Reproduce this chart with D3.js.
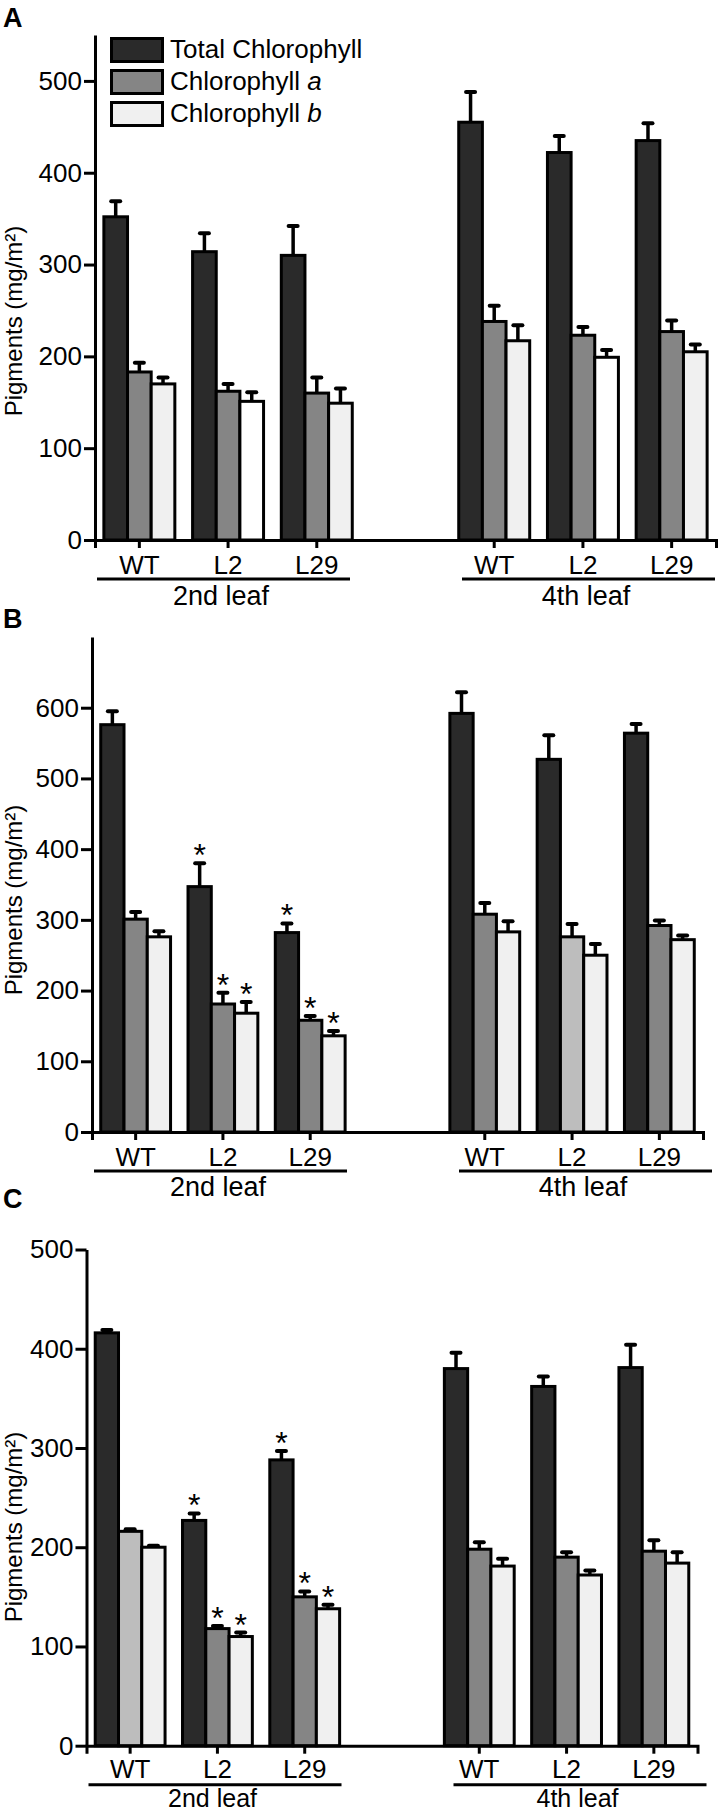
<!DOCTYPE html>
<html><head><meta charset="utf-8">
<script src="https://cdn.jsdelivr.net/npm/d3@7"></script>
<style>
html,body{margin:0;padding:0;background:#fff;}
svg{display:block;font-family:"Liberation Sans", Arial, Helvetica, sans-serif;}
</style></head><body>
<svg id="chart" width="721" height="1812"></svg>
<script>
// ---------- data ----------
const genotypes = ["WT", "L2", "L29"];
const leaves = ["2nd leaf", "4th leaf"];
const seriesNames = ["Total Chlorophyll", "Chlorophyll a", "Chlorophyll b"];
const slots = ["2nd-WT", "2nd-L2", "2nd-L29", "gap", "4th-WT", "4th-L2", "4th-L29"];

// order of values: 2nd WT, 2nd L2, 2nd L29, 4th WT, 4th L2, 4th L29
const A_total    = [352, 314, 310, 455, 422, 435];
const A_totalErr = [17, 20, 32, 33, 18, 19];
const A_chlA     = [183, 162, 160, 238, 223, 227];
const A_chlAErr  = [10, 8, 17, 17, 9, 12];
const A_chlB     = [170, 151, 149, 217, 199, 205];
const A_chlBErr  = [7, 10, 16, 17, 8, 8];
const A_ticks    = [0, 100, 200, 300, 400, 500];
const A_sig      = [];

const B_total    = [576, 347, 282, 592, 527, 564];
const B_totalErr = [19, 33, 13, 30, 34, 13];
const B_chlA     = [301, 181, 158, 308, 276, 292];
const B_chlAErr  = [10, 16, 6, 16, 18, 7];
const B_chlB     = [276, 168, 136, 283, 250, 272];
const B_chlBErr  = [8, 16, 7, 15, 16, 6];
const B_ticks    = [0, 100, 200, 300, 400, 500, 600];
const B_sig      = [[0, 1], [1, 1], [2, 1], [0, 2], [1, 2], [2, 2]]; // [series, group]

const C_total    = [416, 227, 288, 380, 362, 381];
const C_totalErr = [3, 7, 9, 16, 10, 23];
const C_chlA     = [216, 118, 150, 198, 190, 196];
const C_chlAErr  = [2, 2.5, 5.5, 7, 5, 11];
const C_chlB     = [200, 110, 138, 181, 172, 184];
const C_chlBErr  = [1.5, 4, 4, 7.5, 4.5, 11];
const C_ticks    = [0, 100, 200, 300, 400, 500];
const C_sig      = [[0, 1], [1, 1], [2, 1], [0, 2], [1, 2], [2, 2]];

// ---------- styles ----------
const seriesFill = ["#2a2a2a", "#858585", "#f0f0f0"];
const fillOverrides = {
  "A-2-1": "#ffffff", "A-2-4": "#ffffff",
  "B-1-4": "#bdbdbd",
  "C-1-0": "#bdbdbd"
};

const panels = [
  { id: "A", values: [A_total, A_chlA, A_chlB], errors: [A_totalErr, A_chlAErr, A_chlBErr],
    ticks: A_ticks, sig: A_sig, yMax: 550,
    x0: 95, x1: 716, y0: 540, yTop: 35, labelY: 321, letterY: 27, legend: true,
    catPad: 8, groupDy: 65, groupFont: 27 },
  { id: "B", values: [B_total, B_chlA, B_chlB], errors: [B_totalErr, B_chlAErr, B_chlBErr],
    ticks: B_ticks, sig: B_sig, yMax: 700,
    x0: 92, x1: 703, y0: 1132, yTop: 637, labelY: 900, letterY: 628, legend: false,
    catPad: 8, groupDy: 64, groupFont: 27 },
  { id: "C", values: [C_total, C_chlA, C_chlB], errors: [C_totalErr, C_chlAErr, C_chlBErr],
    ticks: C_ticks, sig: C_sig, yMax: 500,
    x0: 86.5, x1: 697.5, y0: 1745.7, yTop: 1249.5, labelY: 1527, letterY: 1208, legend: false,
    catPad: 6, groupDy: 61, groupFont: 25 }
];

const svg = d3.select("#chart");
const groupSlot = i => slots[i < 3 ? i : i + 1];
const slotLabel = s => s.split("-")[1];

function drawPanel(p) {
  const g = svg.append("g");
  const x = d3.scaleBand().domain(slots).range([p.x0, p.x1]).padding(0);
  const y = d3.scaleLinear().domain([0, p.yMax]).range([p.y0, p.yTop]);
  const inner = d3.scaleBand().domain(d3.range(3)).range([0, x.bandwidth() * 0.8]).padding(0);
  const off = x.bandwidth() * 0.1;

  const rows = [];
  p.values.forEach((vals, s) => vals.forEach((v, i) => {
    rows.push({ s, i, v, e: p.errors[s][i],
      fill: fillOverrides[`${p.id}-${s}-${i}`] || seriesFill[s],
      cx: x(groupSlot(i)) + off + inner(s) + inner.bandwidth() / 2 });
  }));

  // bars
  g.selectAll("rect.bar").data(rows).join("rect")
    .attr("class", "bar")
    .attr("x", d => d.cx - inner.bandwidth() / 2)
    .attr("width", inner.bandwidth())
    .attr("y", d => y(d.v))
    .attr("height", d => y(0) - y(d.v))
    .attr("fill", d => d.fill)
    .attr("stroke", "#000")
    .attr("stroke-width", 3);

  // error bars
  g.selectAll("line.err").data(rows).join("line")
    .attr("class", "err")
    .attr("x1", d => d.cx).attr("x2", d => d.cx)
    .attr("y1", d => y(d.v)).attr("y2", d => y(d.v + d.e))
    .attr("stroke", "#000").attr("stroke-width", 3.5);
  g.selectAll("line.cap").data(rows).join("line")
    .attr("class", "cap")
    .attr("x1", d => d.cx - 4.5).attr("x2", d => d.cx + 4.5)
    .attr("y1", d => y(d.v + d.e)).attr("y2", d => y(d.v + d.e))
    .attr("stroke", "#000").attr("stroke-width", 4).attr("stroke-linecap", "round");

  // significance stars
  const sigRows = p.sig.map(([s, i]) => rows.find(r => r.s === s && r.i === i));
  g.selectAll("text.star").data(sigRows).join("text")
    .attr("class", "star")
    .attr("x", d => d.cx)
    .attr("y", d => y(d.v + d.e) + 3)
    .attr("text-anchor", "middle")
    .attr("font-size", 32)
    .text("*");

  // y axis
  const ya = g.append("g").attr("transform", `translate(${p.x0},0)`)
    .call(d3.axisLeft(y).tickValues(p.ticks).tickSize(11).tickSizeOuter(0).tickPadding(2));
  ya.selectAll("path,line").attr("stroke", "#000").attr("stroke-width", 3);
  ya.selectAll("text").attr("font-size", 26).attr("font-family", "Liberation Sans, Arial, sans-serif").attr("fill", "#000");

  // x axis
  const xa = g.append("g").attr("transform", `translate(0,${p.y0})`)
    .call(d3.axisBottom(x).tickValues(slots.filter(s => s !== "gap"))
      .tickSize(8).tickSizeOuter(8).tickPadding(p.catPad).tickFormat(slotLabel));
  xa.selectAll("path,line").attr("stroke", "#000").attr("stroke-width", 3);
  xa.selectAll("text").attr("font-size", 26).attr("font-family", "Liberation Sans, Arial, sans-serif").attr("fill", "#000");

  // group underlines + labels
  leaves.forEach((leaf, j) => {
    const xs = p.x0 + 2 + j * 365;
    g.append("line").attr("x1", xs).attr("x2", xs + 253)
      .attr("y1", p.y0 + 39).attr("y2", p.y0 + 39)
      .attr("stroke", "#000").attr("stroke-width", 3);
    g.append("text").attr("x", xs + 124).attr("y", p.y0 + p.groupDy)
      .attr("text-anchor", "middle").attr("font-size", p.groupFont).text(leaf);
  });

  // y label
  g.append("text")
    .attr("transform", `translate(22,${p.labelY}) rotate(-90)`)
    .attr("text-anchor", "middle").attr("font-size", 24)
    .text("Pigments (mg/m²)");

  // panel letter
  g.append("text").attr("x", 3).attr("y", p.letterY)
    .attr("font-size", 27).attr("font-weight", "bold").text(p.id);

  // legend
  if (p.legend) {
    const lg = g.append("g");
    seriesNames.forEach((name, s) => {
      const cy = 50 + s * 32;
      lg.append("rect").attr("x", 111.5).attr("y", cy - 11.5).attr("width", 51).attr("height", 23)
        .attr("fill", seriesFill[s]).attr("stroke", "#000").attr("stroke-width", 3);
      const t = lg.append("text").attr("x", 170).attr("y", cy + 7.5).attr("font-size", 26);
      if (s === 0) t.text(name);
      else {
        const parts = name.split(" ");
        t.append("tspan").text(parts[0] + " ");
        t.append("tspan").attr("font-style", "italic").text(parts[1]);
      }
    });
  }
}

panels.forEach(drawPanel);
</script>
</body></html>
